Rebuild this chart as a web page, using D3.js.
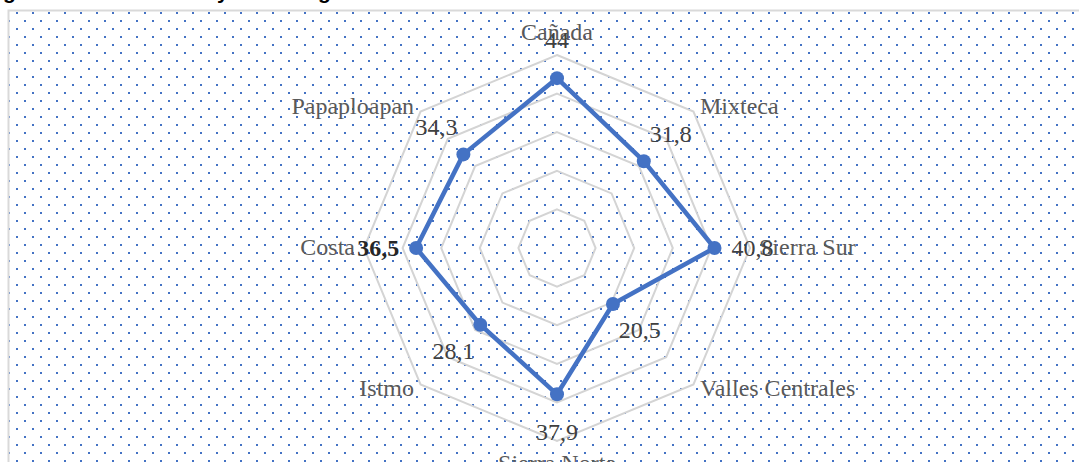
<!DOCTYPE html>
<html>
<head>
<meta charset="utf-8">
<script src="https://cdn.jsdelivr.net/npm/d3@7"></script>
<style>
  body { margin: 0; background: #fff; }
  svg { display: block; }
</style>
</head>
<body>
<div id="chart"></div>
<script>
// data
var categories = ["Cañada", "Mixteca", "Sierra Sur", "Valles Centrales", "Sierra Norte", "Istmo", "Costa", "Papaploapan"];
var values = [44, 31.8, 40.8, 20.5, 37.9, 28.1, 36.5, 34.3];
var valueLabels = ["44", "31,8", "40,8", "20,5", "37,9", "28,1", "36,5", "34,3"];
var gridTicks = [10, 20, 30, 40, 50];
var boldCategories = ["Costa"];

var width = 1079, height = 462;
var cx = 557, cy = 248, radius = 193;

var svg = d3.select("#chart").append("svg")
    .attr("width", width)
    .attr("height", height);

// dotted plot area background
var defs = svg.append("defs");
var pat = defs.append("pattern")
    .attr("id", "dots")
    .attr("patternUnits", "userSpaceOnUse")
    .attr("x", 0).attr("y", 12)
    .attr("width", 16).attr("height", 16);
pat.append("rect").attr("x", 0).attr("y", 0).attr("width", 2).attr("height", 2).attr("fill", "#4472c4");
pat.append("rect").attr("x", 8).attr("y", 8).attr("width", 2).attr("height", 2).attr("fill", "#4472c4");

svg.append("rect")
    .attr("x", 8).attr("y", 10)
    .attr("width", width).attr("height", height)
    .attr("fill", "url(#dots)");

svg.append("path")
    .attr("d", "M8.5," + height + "V10.5H" + width)
    .attr("fill", "none")
    .attr("stroke", "#d9d9d9")
    .attr("stroke-width", 2);

// cut off title above the chart (only descenders show)
[["g", 3], ["y", 217], ["g", 318]].forEach(function (t) {
    svg.append("text")
        .attr("x", t[1]).attr("y", -1)
        .style("font-family", "Liberation Sans, Arial, sans-serif")
        .style("font-weight", "bold")
        .style("font-size", "21px")
        .attr("fill", "#000")
        .text(t[0]);
});

var r = d3.scaleLinear().domain([0, 50]).range([0, radius]);
var angle = function (i) { return i * 2 * Math.PI / categories.length; };

var g = svg.append("g")
    .attr("transform", "translate(" + cx + "," + cy + ")");

// grid octagons
var ring = d3.lineRadial()
    .angle(function (d, i) { return angle(i); })
    .radius(function (d) { return r(d); })
    .curve(d3.curveLinearClosed);

g.selectAll(".grid")
    .data(gridTicks)
    .enter()
    .append("path")
    .attr("class", "grid")
    .attr("d", function (t) { return ring(categories.map(function () { return t; })); })
    .attr("fill", "none")
    .attr("stroke", "#d4d4d4")
    .attr("stroke-width", 2);

// series
g.append("path")
    .datum(values)
    .attr("d", ring)
    .attr("fill", "none")
    .attr("stroke", "#4472c4")
    .attr("stroke-width", 4.5)
    .attr("stroke-linejoin", "round");

var px = function (v, i) { return r(v) * Math.sin(angle(i)); };
var py = function (v, i) { return -r(v) * Math.cos(angle(i)); };

g.selectAll(".pt")
    .data(values)
    .enter()
    .append("circle")
    .attr("class", "pt")
    .attr("cx", function (d, i) { return px(d, i); })
    .attr("cy", function (d, i) { return py(d, i); })
    .attr("r", 7)
    .attr("fill", "#4472c4");

// category labels at the outer ring
var outer = gridTicks[gridTicks.length - 1];
g.selectAll(".cat")
    .data(categories)
    .enter()
    .append("text")
    .attr("class", "cat")
    .attr("x", function (d, i) {
        var s = Math.sin(angle(i));
        var pad = Math.abs(s) > 0.9 ? 9 : 6.5;
        return px(outer, i) + (s > 0.01 ? pad : s < -0.01 ? -pad : 0);
    })
    .attr("y", function (d, i) {
        var c = Math.cos(angle(i));
        return py(outer, i) + (c > 0.9 ? -15 : c < -0.9 ? 30 : 7 - 7 * c);
    })
    .attr("text-anchor", function (d, i) {
        var s = Math.sin(angle(i));
        return s > 0.01 ? "start" : s < -0.01 ? "end" : "middle";
    })
    .style("font-family", "Liberation Serif, Times New Roman, serif")
    .style("font-size", "24px")
    .attr("fill", "#595959")
    .text(function (d) { return d; });

// value labels
g.selectAll(".val")
    .data(values)
    .enter()
    .append("text")
    .attr("class", "val")
    .attr("x", function (d, i) { return px(d, i) + 38 * Math.sin(angle(i)); })
    .attr("y", function (d, i) { return py(d, i) - 38 * Math.cos(angle(i)) + 7.5; })
    .attr("text-anchor", "middle")
    .style("font-family", "Liberation Serif, Times New Roman, serif")
    .style("font-size", "24px")
    .style("font-weight", function (d, i) { return boldCategories.indexOf(categories[i]) >= 0 ? "bold" : "normal"; })
    .attr("fill", function (d, i) { return boldCategories.indexOf(categories[i]) >= 0 ? "#262626" : "#404040"; })
    .text(function (d, i) { return valueLabels[i]; });
</script>
</body>
</html>
